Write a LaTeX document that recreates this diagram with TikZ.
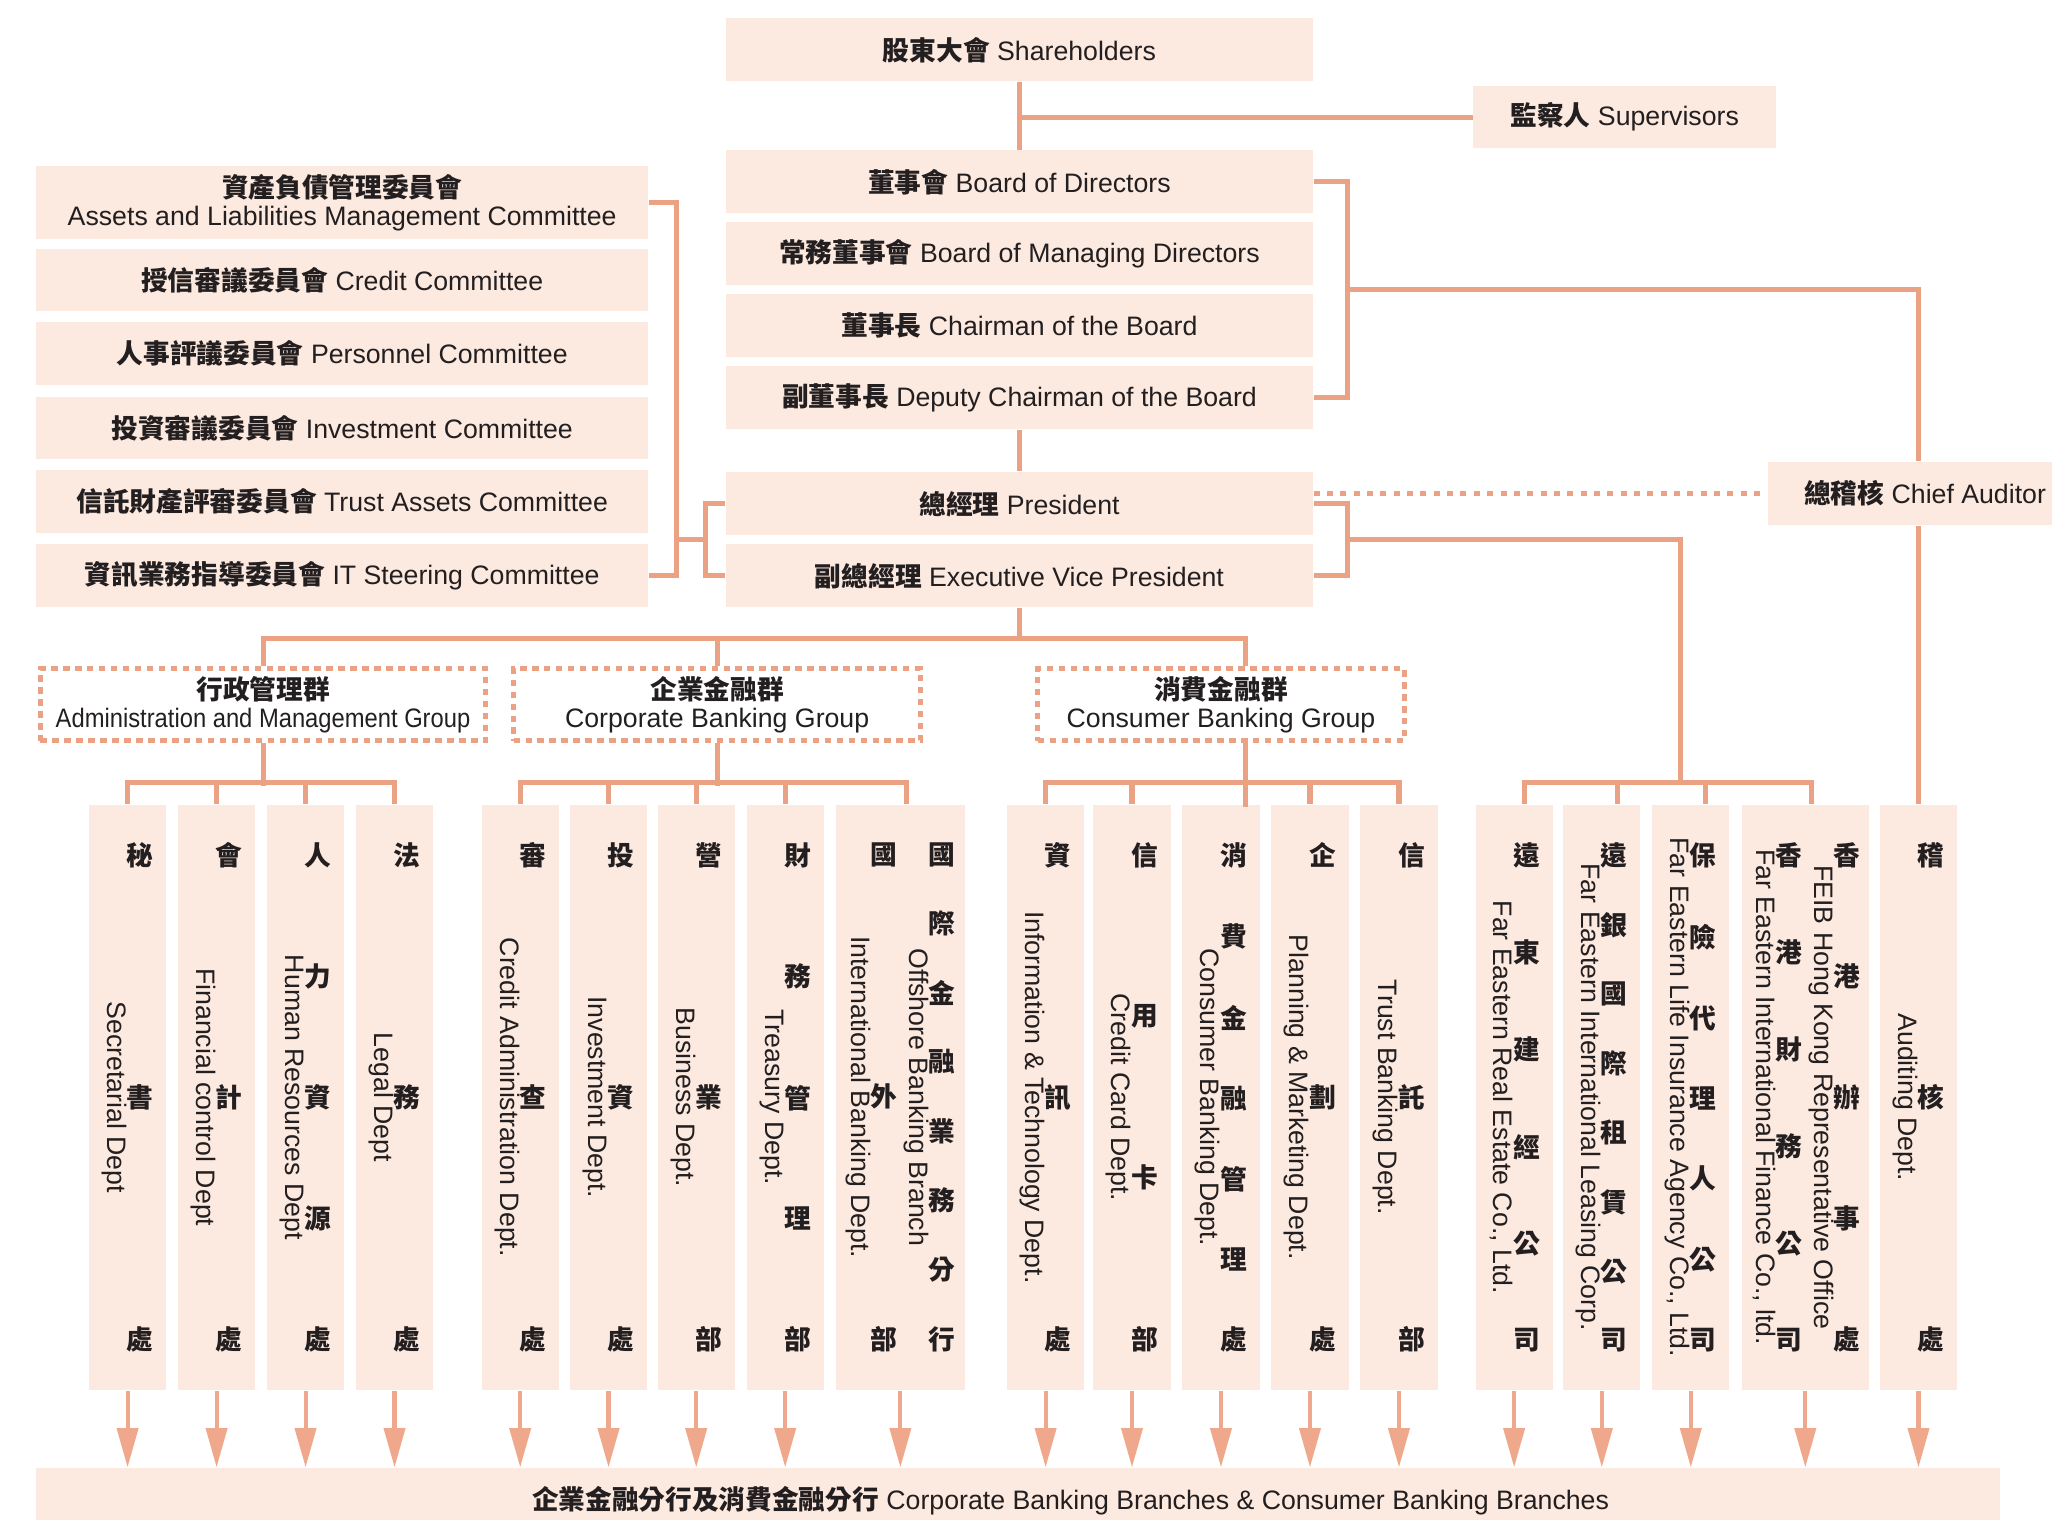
\documentclass[tikz,border=0pt]{standalone}
\usepackage{fontspec}
\usepackage{graphicx}
\setmainfont{Liberation Sans}
\newfontfamily\zhfont{Noto Sans CJK TC}
\usetikzlibrary{arrows.meta}

\definecolor{boxfill}{HTML}{FCE9DF}
\definecolor{linecol}{HTML}{EBA184}
\definecolor{arrcol}{HTML}{EFA88B}
\definecolor{txtcol}{HTML}{231F20}

\newcommand{\lblfont}{\fontsize{5.8}{6}\selectfont}
\newcommand{\zh}[1]{{\zhfont\bfseries #1}}
\newcommand{\entext}[1]{\rotatebox{-90}{\raisebox{0pt}[0.72em][0.21em]{#1}}}
\def\zhloop#1#2\zhend{\hbox to 1em{\hss#1\hss}%
  \if\relax\detokenize{#2}\relax\else\vfill\zhloop#2\zhend\fi}
\newcommand{\zhstack}[1]{\vbox to 3.87cm{\offinterlineskip\zhfont\bfseries\zhloop#1\zhend}}
\newcommand{\vcol}[2]{$\vcenter{\hbox{\entext{#2}}}\vcenter{\hbox{\zhstack{#1}}}$}

\tikzset{
  lbl/.style={fill=boxfill, text=txtcol, inner sep=0pt, align=center, font=\lblfont},
  topbox/.style={lbl, minimum width=4.48cm, minimum height=0.48cm},
  cttbox/.style={lbl, minimum width=4.67cm, minimum height=0.48cm},
  grpbox/.style={draw=linecol, line width=1.1pt, dash pattern=on 1.4pt off 1.2pt,
    text=txtcol, inner sep=0pt, align=center, minimum height=0.55cm, font=\lblfont},
  colbox/.style={fill=boxfill, text=txtcol, inner sep=0pt, minimum width=0.59cm,
    minimum height=4.47cm, font=\lblfont},
  widecol/.style={colbox, minimum width=0.98cm},
  conn/.style={draw=linecol, line width=1.1pt},
  dotconn/.style={conn, dash pattern=on 1.3pt off 1.6pt},
  downarr/.style={draw=arrcol, line width=0.9pt, -{Triangle[length=0.3cm,width=0.16cm]}},
}

\begin{document}
\begin{tikzpicture}[x=0.01cm, y=-0.01cm]
  \useasboundingbox (0,0) rectangle (1568,1161);

  \node[topbox] (sh) at (779,38) {\zh{股東大會} Shareholders};
  \node[lbl, minimum width=2.31cm, minimum height=0.47cm] (sup) at (1241.5,89.5) {\zh{監察人} Supervisors};
  \node[topbox] (bod) at (779,139) {\zh{董事會} Board of Directors};
  \node[topbox] (bmd) at (779,194) {\zh{常務董事會} Board of Managing Directors};
  \node[topbox] (chair) at (779,249) {\zh{董事長} Chairman of the Board};
  \node[topbox] (dchair) at (779,304) {\zh{副董事長} Deputy Chairman of the Board};
  \node[topbox] (pres) at (779,385) {\zh{總經理} President};
  \node[topbox] (evp) at (779,440) {\zh{副總經理} Executive Vice President};
  \node[lbl, minimum width=2.4cm, minimum height=0.48cm] (chief) at (1471,377) {\zh{總稽核} Chief Auditor};

  \node[cttbox, minimum height=0.56cm] (alm) at (261.5,155) {\zh{資產負債管理委員會}\\Assets and Liabilities Management Committee};
  \node[cttbox] (credit) at (261.5,214) {\zh{授信審議委員會} Credit Committee};
  \node[cttbox] (pers) at (261.5,270) {\zh{人事評議委員會} Personnel Committee};
  \node[cttbox] (inv) at (261.5,327) {\zh{投資審議委員會} Investment Committee};
  \node[cttbox] (trust) at (261.5,383) {\zh{信託財產評審委員會} Trust Assets Committee};
  \node[cttbox] (itsc) at (261.5,440) {\zh{資訊業務指導委員會} IT Steering Committee};

  \node[grpbox, minimum width=3.4cm] (adm) at (201,538.5) {\zh{行政管理群}\\\scalebox{0.89}[1]{Administration and Management Group}};
  \node[grpbox, minimum width=3.11cm] (corp) at (548,538.5) {\zh{企業金融群}\\Corporate Banking Group};
  \node[grpbox, minimum width=2.8cm] (cons) at (933,538.5) {\zh{消費金融群}\\Consumer Banking Group};

  \node[colbox] (c1) at (97.5,838.5) {\vcol{秘書處}{Secretarial Dept}};
  \node[colbox] (c2) at (165.5,838.5) {\vcol{會計處}{Financial control Dept}};
  \node[colbox] (c3) at (233.5,838.5) {\vcol{人力資源處}{Human Resources Dept}};
  \node[colbox] (c4) at (301.5,838.5) {\vcol{法務處}{Legal Dept}};
  \node[colbox] (c5) at (397.5,838.5) {\vcol{審查處}{Credit Administration Dept.}};
  \node[colbox] (c6) at (465,838.5) {\vcol{投資處}{Investment Dept.}};
  \node[colbox] (c7) at (532,838.5) {\vcol{營業部}{Business Dept.}};
  \node[colbox] (c8) at (600,838.5) {\vcol{財務管理部}{Treasury Dept.}};
  \node[widecol] (c9) at (688,838.5) {\vcol{國外部}{International Banking Dept.}\hspace{0.05cm}\vcol{國際金融業務分行}{Offshore Banking Branch}};
  \node[colbox] (c10) at (799,838.5) {\vcol{資訊處}{Information \& Technology Dept.}};
  \node[colbox] (c11) at (865,838.5) {\vcol{信用卡部}{Credit Card Dept.}};
  \node[colbox] (c12) at (933,838.5) {\vcol{消費金融管理處}{Consumer Banking Dept.}};
  \node[colbox] (c13) at (1001,838.5) {\vcol{企劃處}{Planning \& Marketing Dept.}};
  \node[colbox] (c14) at (1069,838.5) {\vcol{信託部}{Trust Banking Dept.}};
  \node[colbox] (c15) at (1157,838.5) {\vcol{遠東建經公司}{Far Eastern Real Estate Co., Ltd.}};
  \node[colbox] (c16) at (1224,838.5) {\vcol{遠銀國際租賃公司}{Far Eastern International Leasing Corp.}};
  \node[colbox] (c17) at (1292,838.5) {\vcol{保險代理人公司}{Far Eastern Life Insurance Agency Co., Ltd.}};
  \node[widecol, minimum width=0.97cm] (c18) at (1379.5,838.5) {\vcol{香港財務公司}{Far Eastern International Finance Co., ltd.}\hspace{0.05cm}\vcol{香港辦事處}{FEIB Hong Kong Representative Office}};
  \node[colbox] (c19) at (1466,838.5) {\vcol{稽核處}{Auditing Dept.}};

  \node[lbl, minimum width=15cm, minimum height=0.5cm] (br) at (778,1147) {\hspace*{0.8cm}\zh{企業金融分行及消費金融分行} Corporate Banking Branches \& Consumer Banking Branches};

  \path (1030,221) coordinate (bbr);
  \path (1030,412) coordinate (pbr);
  \path (517,412) coordinate (cbr);
  \path (539,412) coordinate (lbr);
  \path (779,488) coordinate (gbar);
  \path (1284,599) coordinate (subtop);

  \draw[conn] (sh.south) -- (bod.north);
  \draw[conn] (sh.south |- sup.west) -- (sup.west);
  \draw[conn] (dchair.south) -- (pres.north);
  \draw[conn] (bod.east) -| (bbr) |- (dchair.east);
  \draw[conn] (bbr) -| (chief.north -| c19.north);
  \draw[conn] (chief.south -| c19.north) -- (c19.north);
  \draw[dotconn] (pres.east |- chief.west) -- (chief.west);
  \draw[conn] (pres.east) -| (pbr) |- (evp.east);
  \draw[conn] (pbr) -| (subtop);
  \draw[conn] (alm.east) -| (cbr) |- (itsc.east);
  \draw[conn] (cbr) -- (lbr);
  \draw[conn] (pres.west) -| (lbr) |- (evp.west);

  \draw[conn] (evp.south) -- (gbar);
  \draw[conn] (adm.north) |- (gbar) -| ([xshift=0.19cm]cons.north);
  \draw[conn] (corp.north) -- (corp.north |- gbar);

  \draw[conn] (adm.south) -- ++(0,33);
  \draw[conn] (c1.north) -- ++(0,-16) -| (c4.north);
  \foreach \c in {c2,c3} \draw[conn] (\c.north) -- ++(0,-16);
  \draw[conn] (corp.south) -- ++(0,33);
  \draw[conn] (c5.north) -- ++(0,-16) -| ([xshift=0.05cm]c9.north);
  \foreach \c in {c6,c7,c8} \draw[conn] (\c.north) -- ++(0,-16);
  \draw[conn] ([xshift=0.19cm]cons.south) -- ++(0,49);
  \draw[conn] (c10.north) -- ++(0,-16) -| (c14.north);
  \foreach \c in {c11,c13} \draw[conn] (\c.north) -- ++(0,-16);
  \draw[conn] ([xshift=0.08cm]c15.north) -- ++(0,-16) -| ([xshift=0.05cm]c18.north);
  \draw[conn] ([xshift=0.12cm]c16.north) -- ++(0,-16);
  \draw[conn] ([xshift=0.11cm]c17.north) -- ++(0,-16);

  \foreach \c in {c1,c2,c3,c4,c5,c6,c7,c8,c9,c10,c11,c12,c13,c14,c15,c16,c17,c18,c19}
    \draw[downarr] (\c.south) -- (\c.south |- br.north);
\end{tikzpicture}
\end{document}
